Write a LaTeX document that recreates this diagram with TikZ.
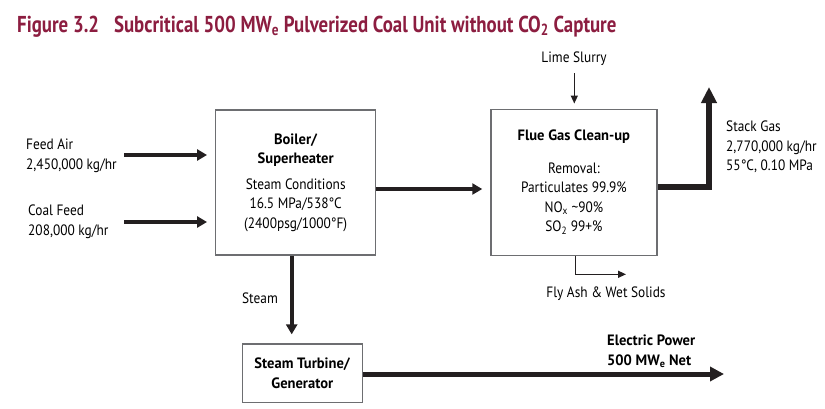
\documentclass[tikz,border=0pt]{standalone}
\usepackage{fontspec}
\setmainfont{PT Sans}[FakeStretch=0.89, BoldFeatures={FakeStretch=0.97}]
\newfontfamily\titlefont{PT Sans}[FakeStretch=0.82]
\usetikzlibrary{arrows.meta,positioning}
\definecolor{titlered}{HTML}{8C1D40}
\definecolor{boxborder}{HTML}{6D6E71}
\definecolor{flowblack}{HTML}{231F20}

\begin{document}
\begin{tikzpicture}[
  x=1pt, y=-1pt, line join=miter,
  unitbox/.style={rectangle, draw=boxborder, line width=1.3pt, fill=white, align=center, font=\fontsize{15}{19.5}\selectfont, inner sep=0pt},
  lbl/.style={align=left, font=\fontsize{15}{19.5}\selectfont, inner sep=0pt, anchor=west},
  heavyflow/.style={draw=flowblack, line width=4pt, -{Triangle[length=10pt, width=11pt]}},
  powerflow/.style={draw=flowblack, line width=5pt, -{Triangle[length=14pt, width=14pt]}},
  stackflow/.style={draw=flowblack, line width=6pt, -{Triangle[length=16pt, width=15pt]}},
  lightflow/.style={draw=flowblack, line width=1.3pt, -{Triangle[length=8pt, width=7pt]}}
]
  \useasboundingbox (0,0) rectangle (825,408);

  % Title
  \node[anchor=base west, inner sep=0pt, text=titlered, font=\fontsize{23}{23}\titlefont\bfseries] (title) at (17,32)
    {Figure 3.2\hspace{15pt}Subcritical 500 MW\textsubscript{e} Pulverized Coal Unit without CO\textsubscript{2} Capture};

  % Unit boxes
  \node[unitbox, minimum width=160pt, minimum height=145pt] (boiler) at (295.7,182.5)
    {\textbf{Boiler/}\\\textbf{Superheater}\\[6pt]Steam Conditions\\16.5 MPa/538°C\\(2400psg/1000°F)};
  \node[unitbox, minimum width=166pt, minimum height=146pt] (flue) at (573.9,182.2)
    {\textbf{Flue Gas Clean-up}\\[13pt]Removal:\\Particulates 99.9\%\\NO\textsubscript{x} \textasciitilde90\%\\SO\textsubscript{2} 99+\%};
  \node[unitbox, minimum width=120pt, minimum height=58.7pt] (turbine) at (302.3,373.4)
    {\textbf{Steam Turbine/}\\\textbf{Generator}};

  % Stream labels
  \node[lbl] (airlbl) at (26,156) {Feed Air\\2,450,000 kg/hr};
  \node[lbl] (coallbl) at (28,221.5) {Coal Feed\\208,000 kg/hr};
  \node[lbl, anchor=center] (limelbl) at (574,59) {Lime Slurry};
  \node[lbl] (stacklbl) at (726,147) {Stack Gas\\2,770,000 kg/hr\\55°C, 0.10 MPa};
  \node[lbl, anchor=center] (ashlbl) at (606,294) {Fly Ash \& Wet Solids};
  \node[lbl, anchor=center] (steamlbl) at (260,298) {Steam};
  \node[lbl, font=\fontsize{15}{19.5}\selectfont\bfseries] (powerlbl) at (607,351.5)
    {Electric Power\\500 MW\textsubscript{e} Net};

  % Free ends and rows
  \coordinate (airin) at (124,155);
  \coordinate (coalin) at (124,222);
  \coordinate (gasrow) at (0,189);
  \coordinate (stacktop) at (709,87);
  \coordinate (stackrow) at (0,186.7);
  \coordinate (limein) at (574.3,73);
  \coordinate (ashdrop) at (575.7,274.3);
  \coordinate (ashout) at (626,274.3);
  \coordinate (steamcol) at (291.7,0);
  \coordinate (powerout) at (724,374);

  % Flows
  \draw[heavyflow, shorten >=8pt] (airin) -- (airin -| boiler.west);
  \draw[heavyflow, shorten >=8pt] (coalin) -- (coalin -| boiler.west);
  \draw[heavyflow, shorten >=8pt] (boiler.east |- gasrow) -- (flue.west |- gasrow);
  \draw[stackflow] (flue.east |- stackrow) -| (stacktop);
  \draw[lightflow, shorten >=5pt] (limein) -- (limein |- flue.north);
  \draw[lightflow] (ashdrop |- flue.south) -- (ashdrop) -- (ashout);
  \draw[heavyflow, shorten >=9pt] (boiler.south -| steamcol) -- (turbine.north -| steamcol);
  \draw[powerflow] (turbine.east |- powerout) -- (powerout);

\end{tikzpicture}
\end{document}
